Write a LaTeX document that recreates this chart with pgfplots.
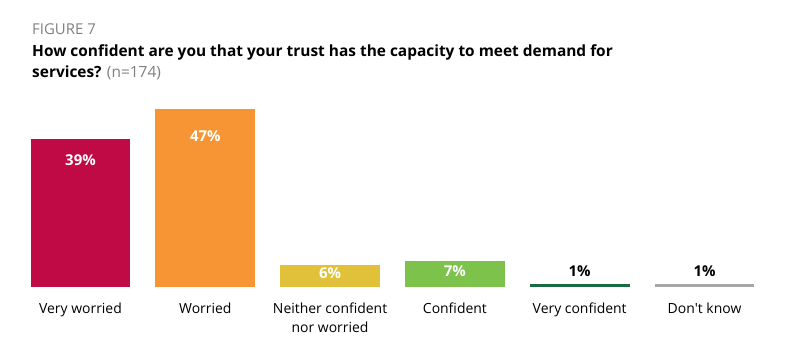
\documentclass[border=0pt]{standalone}
\usepackage{pgfplots}
\pgfplotsset{compat=1.18}
\usepackage{fontspec}
\setmainfont{Open Sans}
\definecolor{cVW}{HTML}{C00A45}
\definecolor{cW}{HTML}{F79433}
\definecolor{cN}{HTML}{E2C13A}
\definecolor{cC}{HTML}{7DC24B}
\definecolor{cVC}{HTML}{1B6B42}
\definecolor{cDK}{HTML}{A6A6A6}
\definecolor{tgray}{HTML}{7F7F7F}
\begin{document}
\begin{tikzpicture}[x=1bp,y=1bp]
\path[use as bounding box] (0,0) rectangle (801,346);
\node[anchor=base west, inner sep=0, text=tgray, font=\fontsize{15}{18}\selectfont] at (32,312) {FIGURE 7};
\node[anchor=base west, inner sep=0, font=\fontsize{15.5}{18}\selectfont\bfseries] at (32,289.3) {How confident are you that your trust has the capacity to meet demand for};
\node[anchor=base west, inner sep=0, font=\fontsize{15.5}{18}\selectfont] at (32,268.3) {\textbf{services?} \textcolor{tgray}{(n=174)}};
\begin{axis}[
  at={(18.1bp,58.7bp)}, anchor=south west,
  scale only axis, width=748.8bp, height=190bp,
  xmin=-0.5, xmax=5.5, ymin=0, ymax=50,
  ybar, bar width=0.8,
  axis line style={draw=none}, tick style={draw=none},
  ytick=\empty,
  xtick={0,1,2,3,4,5},
  xticklabels={Very worried,Worried,{Neither confident\\nor worried},Confident,Very confident,{Don\textquotesingle t know}},
  xticklabel style={align=center, font=\fontsize{14}{18.5}\selectfont, anchor=north, yshift=-8bp},
  clip=false,
  /pgf/number format/assume math mode=true,
  nodes near coords={\pgfmathprintnumber{\pgfplotspointmeta}\%},
  every node near coord/.append style={font=\fontsize{15}{18}\selectfont\bfseries},
]
\addplot[fill=cVW, draw=none, bar shift=0pt, every node near coord/.append style={anchor=center, yshift=-21bp, text=white}] coordinates {(0,39)};
\addplot[fill=cW, draw=none, bar shift=0pt, every node near coord/.append style={anchor=center, yshift=-27bp, text=white}] coordinates {(1,47)};
\addplot[fill=cN, draw=none, bar shift=0pt, every node near coord/.append style={anchor=center, yshift=-9bp, text=white}] coordinates {(2,6)};
\addplot[fill=cC, draw=none, bar shift=0pt, every node near coord/.append style={anchor=center, yshift=-10bp, text=white}] coordinates {(3,7)};
\addplot[fill=cVC, draw=none, bar shift=0pt, every node near coord/.append style={anchor=center, yshift=12bp, text=black}] coordinates {(4,1)};
\addplot[fill=cDK, draw=none, bar shift=0pt, every node near coord/.append style={anchor=center, yshift=12bp, text=black}] coordinates {(5,1)};
\end{axis}
\end{tikzpicture}
\end{document}
